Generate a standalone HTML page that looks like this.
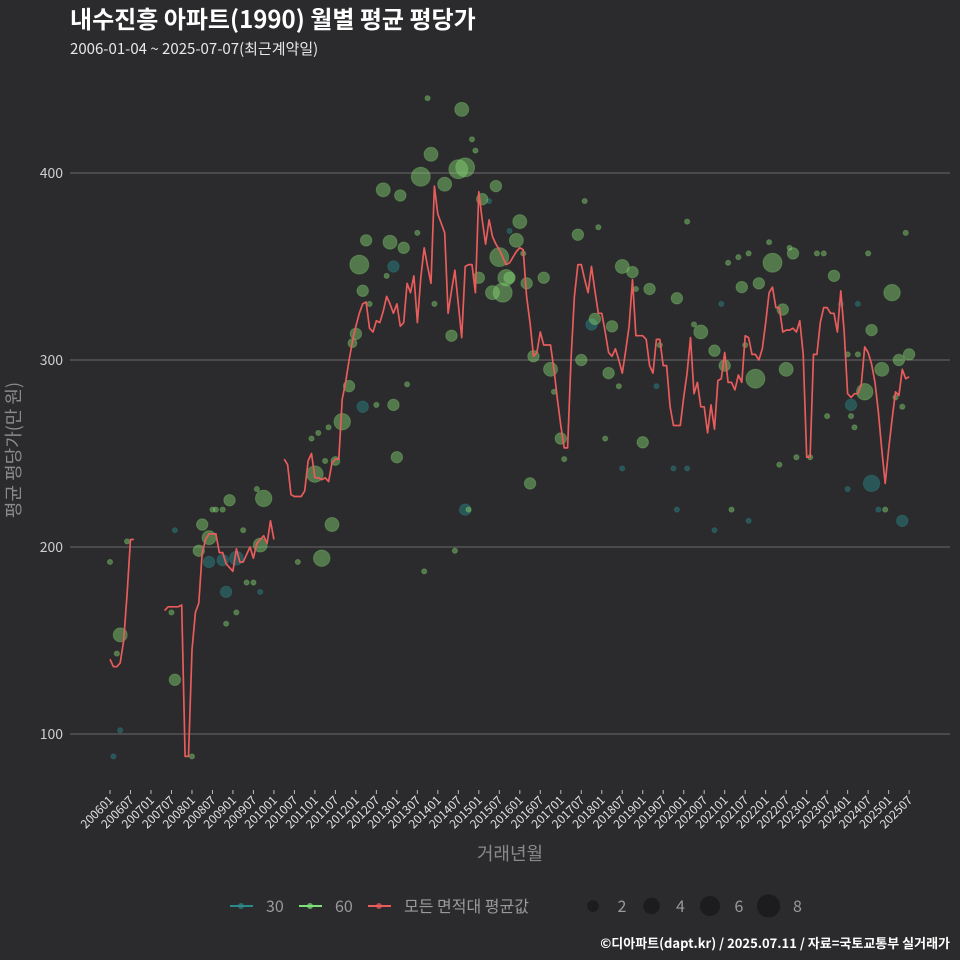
<!DOCTYPE html>
<html><head><meta charset="utf-8">
<style>
html,body{margin:0;padding:0;background:#2b2a2c;}
svg{display:block;font-family:"Noto Sans CJK KR","Liberation Sans",sans-serif;}
</style></head>
<body>
<svg id="chart" width="960" height="960" viewBox="0 0 960 960">
<rect x="0" y="0" width="960" height="960" fill="#2b2a2c"/>
<text x="70" y="28" fill="#ffffff" font-size="24" font-weight="bold">내수진흥 아파트(1990) 월별 평균 평당가</text>
<text x="70" y="54" fill="#e8e8e8" font-size="15">2006-01-04 ~ 2025-07-07(최근계약일)</text>
<g id="grid"></g>
<g id="yticks"></g>
<g id="points"></g>
<g id="line"></g>
<g id="xticks"></g>
<text x="510" y="860" fill="#8a8a8a" font-size="18" text-anchor="middle">거래년월</text>
<text transform="translate(20,450) rotate(-90)" fill="#8a8a8a" font-size="18" text-anchor="middle">평균 평당가(만 원)</text>
<g id="legend">
  <g>
    <line x1="230" y1="906" x2="253" y2="906" stroke="#2a8a8a" stroke-width="2"/>
    <circle cx="241" cy="906" r="3" fill="#2a8a8a" opacity="0.7"/>
    <text x="266" y="912" fill="#9a9a9a" font-size="16">30</text>
  </g>
  <g>
    <line x1="299" y1="906" x2="322" y2="906" stroke="#7de07a" stroke-width="2"/>
    <circle cx="310" cy="906" r="3" fill="#7de07a" opacity="0.7"/>
    <text x="335" y="912" fill="#9a9a9a" font-size="16">60</text>
  </g>
  <g>
    <line x1="368" y1="906" x2="391" y2="906" stroke="#e85c5c" stroke-width="2"/>
    <circle cx="379" cy="906" r="3" fill="#e85c5c" opacity="0.7"/>
    <text x="404" y="912" fill="#9a9a9a" font-size="16">모든 면적대 평균값</text>
  </g>
  <g id="sizeLegend"></g>
</g>
<text x="950" y="948" fill="#ffffff" font-size="13" font-weight="bold" text-anchor="end">©디아파트(dapt.kr) / 2025.07.11 / 자료=국토교통부 실거래가</text>
</svg>
<script>
const yTicks = [100, 200, 300, 400];
const xTickLabels = ["200601","200607","200701","200707","200801","200807","200901","200907","201001","201007","201101","201107","201201","201207","201301","201307","201401","201407","201501","201507","201601","201607","201701","201707","201801","201807","201901","201907","202001","202007","202101","202107","202201","202207","202301","202307","202401","202407","202501","202507"];
const sizeLegendValues = [2, 4, 6, 8];
// average line: month index (from 2006-01), value; null = gap
const lineMonths = [0,1,2,3,4,5,6,7,null,16,17,18,19,20,21,22,23,24,25,26,27,28,29,30,31,32,33,34,35,36,37,38,39,40,41,42,43,44,45,46,47,48,null,51,52,53,54,55,56,57,58,59,60,61,62,63,64,65,66,67,68,69,70,71,72,73,74,75,76,77,78,79,80,81,82,83,84,85,86,87,88,89,90,91,92,93,94,95,96,97,98,99,100,101,102,103,104,105,106,107,108,109,110,111,112,113,114,115,116,117,118,119,120,121,122,123,124,125,126,127,128,129,130,131,132,133,134,135,136,137,138,139,140,141,142,143,144,145,146,147,148,149,150,151,152,153,154,155,156,157,158,159,160,161,162,163,164,165,166,167,168,169,170,171,172,173,174,175,176,177,178,179,180,181,182,183,184,185,186,187,188,189,190,191,192,193,194,195,196,197,198,199,200,201,202,203,204,205,206,207,208,209,210,211,212,213,214,215,216,217,218,219,220,221,222,223,224,225,226,227,228,229,230,231,232,233,234];
const lineValues = [140,136,136,138,150,175,204,204,null,166,168,168,168,168,169,88,88,145,165,170,197,204,207,207,207,197,197,191,189,187,199,192,192,196,200,194,202,204,206,202,214,204,null,247,244,228,227,227,227,230,246,250,237,237,236,237,235,245,247,247,279,288,300,310,318,325,330,331,317,315,321,320,326,334,330,325,330,318,320,341,336,345,320,344,360,350,341,393,378,373,368,325,337,348,330,312,350,351,351,336,390,375,362,375,366,362,359,355,351,352,355,358,360,359,334,320,302,304,315,308,308,308,295,279,265,253,253,300,334,351,351,343,336,350,337,325,325,315,304,302,306,300,293,305,318,343,313,313,313,311,297,293,311,311,297,297,275,265,265,265,280,293,312,282,288,275,275,261,276,263,289,290,304,288,288,284,292,288,313,312,303,303,300,306,320,336,339,328,328,315,316,316,317,315,321,303,248,248,303,303,320,328,328,325,325,315,337,315,282,280,282,282,287,307,304,298,288,272,252,234,252,268,283,281,295,290,291];
// 30-size transactions: month, value, count
const t30Months = [1,3,19,29,33,34,37,44,74,83,104,111,117,141,150,160,165,169,166,179,187,177,214,219,217,223,216,225,232];
const t30Values = [88,102,209,192,193,176,194,176,275,350,220,385,369,319,242,286,242,242,220,330,214,209,330,330,276,234,231,220,214];
const t30Counts = [1,1,1,3,3,3,4,1,3,3,3,1,1,3,1,1,1,1,1,1,1,1,1,1,3,5,1,1,3];
// 60-size transactions
const t60Months = [0,2,3,5,18,19,24,27,29,26,30,31,33,34,37,35,39,40,42,43,45,44,55,62,60,59,61,63,64,66,65,68,70,71,72,73,74,75,76,78,80,81,82,83,84,85,86,87,90,91,92,93,94,95,98,100,101,102,103,104,105,106,107,108,109,113,114,116,115,112,117,120,119,122,127,121,123,124,129,130,132,133,137,138,139,142,143,147,146,149,145,150,153,154,158,156,161,166,169,171,173,177,180,181,184,187,185,190,189,186,182,193,194,199,200,197,198,196,201,205,207,209,212,222,216,219,221,223,226,229,231,234,210,217,218,227,230,232,233];
const t60Values = [192,143,153,203,165,129,88,212,205,198,220,220,220,159,165,225,209,181,181,231,226,201,192,194,239,258,261,246,264,246,212,267,286,309,314,351,337,364,330,276,391,345,363,276,248,388,360,287,368,398,187,440,410,330,394,313,198,402,434,403,220,418,412,344,386,393,355,344,336,336,344,374,364,341,344,357,234,302,295,283,258,247,367,300,385,322,371,318,293,286,258,350,347,338,338,256,308,333,374,319,315,305,297,352,355,357,339,341,290,308,220,363,352,360,357,327,295,244,248,248,357,357,345,357,303,303,283,316,295,336,300,303,270,270,264,220,280,275,368];
const t60Counts = [1,1,4,1,1,3,1,3,4,3,1,1,1,1,1,3,1,1,1,1,5,4,1,5,5,1,1,1,1,2,4,5,3,2,3,6,3,3,1,1,4,1,4,3,3,3,3,1,1,6,1,1,4,1,4,3,1,6,4,6,1,1,1,3,3,3,6,5,6,4,3,4,4,3,3,1,3,3,4,1,3,1,3,3,1,3,1,3,3,1,1,4,3,1,3,3,1,3,1,1,4,3,3,1,1,1,3,3,6,1,1,1,6,1,3,3,4,1,1,1,1,1,3,1,1,1,5,3,4,5,3,3,1,1,1,1,1,1,1];

const NS = "http://www.w3.org/2000/svg";
const X0 = 110, XSTEP = 3.415, Y400 = 173, YPX = 1.87;
function xScale(m){ return X0 + m * XSTEP; }
function yScale(v){ return Y400 + (400 - v) * YPX; }
function rScale(c){ return c <= 1 ? 2.6 : 2 + 1.25 * c; }
function legendR(c){ return 4.1 * Math.sqrt(c); }
function mk(tag, attrs, parent){ const e = document.createElementNS(NS, tag); for (const k in attrs) e.setAttribute(k, attrs[k]); parent.appendChild(e); return e; }

const grid = document.getElementById('grid');
const yg = document.getElementById('yticks');
yTicks.forEach(v => {
  const l = mk('line', {x1: 70, x2: 950, y1: yScale(v), y2: yScale(v), stroke: '#6a6a6a', 'stroke-width': 1}, grid);
  
  
  const t = mk('text', {x: 63, y: yScale(v) + 5, fill: '#cfcfcf', 'font-size': 14, 'text-anchor': 'end'}, yg);
  t.textContent = v;
  
  
});

const xg = document.getElementById('xticks');
xTickLabels.forEach((lab, i) => {
  const m = i * 6;
  const x = xScale(m);
  const tk = mk('line', {x1: x, x2: x, y1: 790, y2: 794, stroke: '#bbbbbb', 'stroke-width': 1}, xg);
  
  
  const t = mk('text', {transform: `translate(${x + 4},${801}) rotate(-45)`, fill: '#e0e0e0', 'font-size': 12, 'text-anchor': 'end'}, xg);
  t.textContent = lab;
  
  
});

const pg = document.getElementById('points');
function drawPts(ms, vs, cs, color, name){
  ms.forEach((m, i) => {
    const c = mk('circle', {cx: xScale(m), cy: yScale(vs[i]), r: rScale(cs[i]), fill: color, 'fill-opacity': 0.45, stroke: color, 'stroke-opacity': 0.3, 'stroke-width': 1}, pg);
    
    
  });
}
drawPts(t30Months, t30Values, t30Counts, '#2b8c8c', 'point-30');
drawPts(t60Months, t60Values, t60Counts, '#86d673', 'point-60');

const lg = document.getElementById('line');
let segs = [], cur = [];
lineMonths.forEach((m, i) => {
  const v = lineValues[i];
  if (m === null || v === null) { if (cur.length) segs.push(cur); cur = []; }
  else cur.push(xScale(m).toFixed(1) + ',' + yScale(v).toFixed(1));
});
if (cur.length) segs.push(cur);
segs.forEach(s => {
  const p = mk('polyline', {points: s.join(' '), fill: 'none', stroke: '#e85c5c', 'stroke-width': 1.7, 'stroke-linejoin': 'round'}, lg);
  
  
});

const sl = document.getElementById('sizeLegend');
sizeLegendValues.forEach((v, i) => {
  const cx = 593 + i * 58.5;
  const c = mk('circle', {cx: cx, cy: 906, r: legendR(v), fill: '#1c1b1d'}, sl);
  
  
  const t = mk('text', {x: cx + 29, y: 912, fill: '#9a9a9a', 'font-size': 16, 'text-anchor': 'middle'}, sl);
  t.textContent = v;
  
  
});
</script>
</body></html>
